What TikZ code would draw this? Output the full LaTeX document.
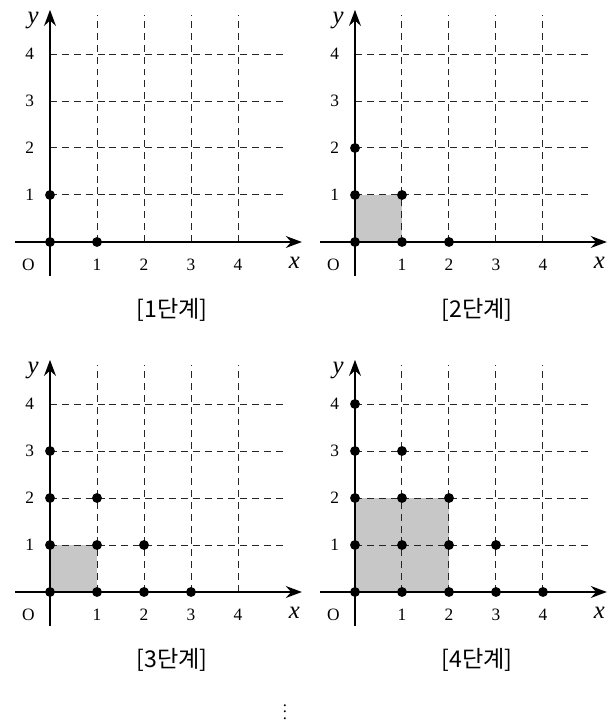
\documentclass[tikz,border=0pt]{standalone}
\usepackage{fontspec}
\setmainfont{Liberation Serif}
\newfontfamily\cjk{Noto Sans CJK KR}
\usetikzlibrary{arrows.meta}

\begin{document}
\begin{tikzpicture}[x=1cm, y=1cm, >={Stealth[length=3.4mm, width=2.5mm]}, axis/.style={line width=1.5pt}, grid/.style={dash pattern=on 4.2pt off 3pt, line width=0.6pt, black!85}, dot/.style={fill=black}, shaded/.style={fill=black!22}, tick/.style={font=\fontsize{10.5}{12}\selectfont}, axlbl/.style={font=\fontsize{15}{17}\selectfont\itshape}, caption/.style={font=\cjk\fontsize{14}{16}\selectfont}]
\useasboundingbox (-1.064,-10.277) rectangle (11.894,5.149);

\foreach \n/\sx/\sy in {1/0/0, 2/6.489/0, 3/0/-7.447, 4/6.489/-7.447} {
\begin{scope}[shift={(\sx,\sy)}]
% shaded square
\pgfmathtruncatemacro{\sq}{\n/2}
\ifnum\sq>0 \fill[shaded] (0,0) rectangle (\sq,\sq); \fi
% grid and ticks
\foreach \k in {1,...,4} {
 \draw[grid] (\k,0) -- (\k,4.83);
 \draw[grid] (0,\k) -- (4.96,\k);
 \node[tick] (xt\n\k) at (\k,-0.49) {\k};
 \node[tick] (yt\n\k) at (-0.43,\k) {\k};
}
\draw[axis,->] (-0.74,0) -- (5.36,0);
\draw[axis,->] (0,-0.72) -- (0,4.94);
\node[tick] (o\n) at (-0.46,-0.49) {O};
\node[axlbl] (x\n) at (5.2,-0.45) {x};
\node[axlbl] (y\n) at (-0.36,4.72) {y};
% lattice points
\foreach \i in {0,...,\n} {
 \pgfmathtruncatemacro{\m}{\n-\i}
 \foreach \j in {0,...,\m} \fill[dot] (\i,\j) circle (0.105);
}
\node[caption] (cap\n) at (2.6,-1.45) {[{\n}단계]};
\end{scope}
}

\node (more) at (5.0,-9.9) {$\vdots$};
\end{tikzpicture}
\end{document}
